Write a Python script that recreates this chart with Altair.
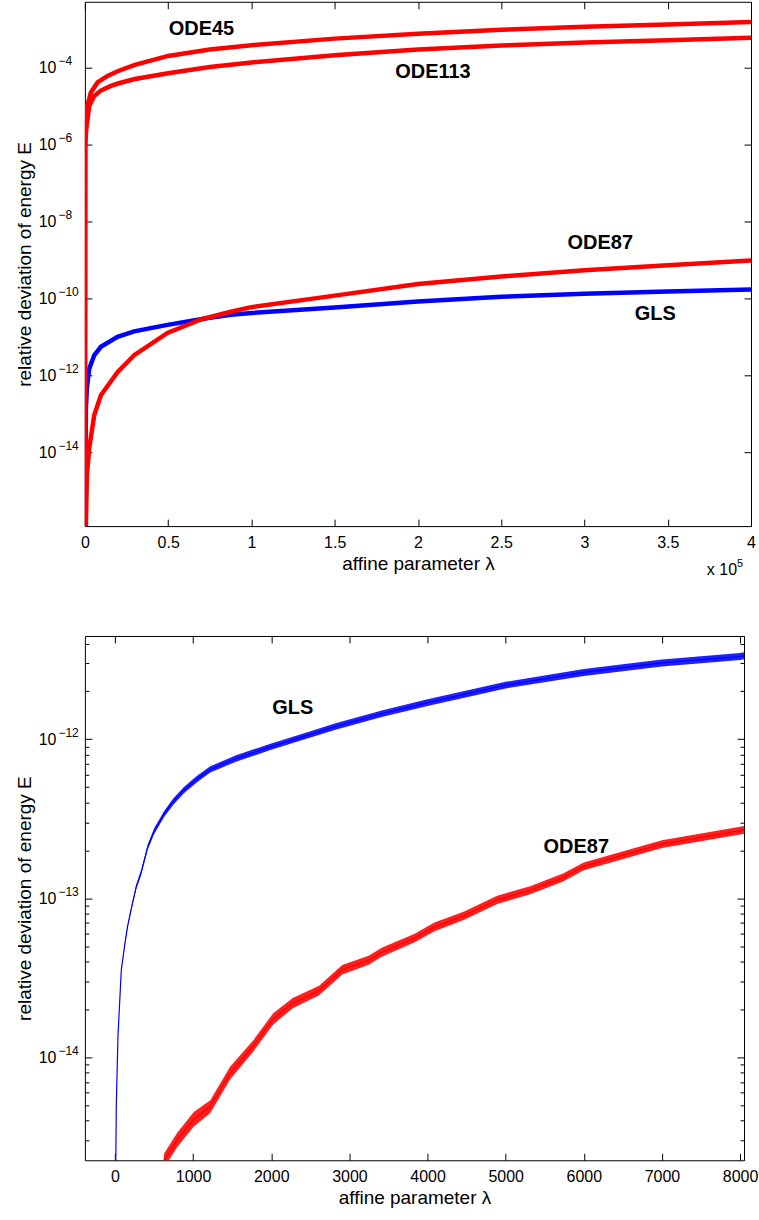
import altair as alt
import pandas as pd

FONT = "Liberation Sans"

# ---------------- top panel: lambda and log10(E) ----------------
top_ode45_lam = [0, 200, 600, 1500, 3600, 7600, 13600, 20000, 30000, 50000, 75000,
                 100000, 150000, 200000, 250000, 300000, 350000, 400000]
top_ode45_exp = [-17, -6.0, -5.6, -5.0, -4.65, -4.39, -4.22, -4.09, -3.93, -3.70, -3.53,
                 -3.42, -3.25, -3.12, -3.02, -2.94, -2.88, -2.82]

top_ode113_lam = [0, 200, 800, 2600, 5600, 9600, 15600, 20400, 30000, 50000, 75000,
                  100000, 150000, 200000, 250000, 300000, 350000, 400000]
top_ode113_exp = [-17, -6.0, -5.6, -5.0, -4.74, -4.6, -4.48, -4.41, -4.30, -4.15, -3.99,
                  -3.87, -3.68, -3.53, -3.43, -3.35, -3.29, -3.23]

top_ode87_lam = [0, 600, 1200, 2600, 5600, 9600, 19600, 29600, 49600, 69600, 87600,
                 100000, 150000, 200000, 250000, 300000, 350000, 400000]
top_ode87_exp = [-17, -15.9, -14.6, -13.9, -13.04, -12.52, -11.92, -11.48, -10.9, -10.55, -10.35,
                 -10.23, -9.93, -9.63, -9.43, -9.27, -9.14, -9.02]

top_gls_lam = [0, 300, 600, 1200, 2600, 5600, 9600, 19600, 29600, 49600, 73000, 87600,
               100000, 150000, 200000, 250000, 300000, 350000, 400000]
top_gls_exp = [-17, -15.0, -12.87, -12.34, -11.83, -11.48, -11.26, -11.0, -10.86, -10.69, -10.52, -10.43,
               -10.38, -10.24, -10.08, -9.96, -9.88, -9.82, -9.77]

top_label_text = ["ODE45", "ODE113", "ODE87", "GLS"]
top_label_lam = [70000, 209000, 309500, 342500]
top_label_E = [1.0e-3, 7.8e-5, 2.7e-9, 3.8e-11]

top_x_ticks = [0, 50000, 100000, 150000, 200000, 250000, 300000, 350000, 400000]
top_y_exps = [-14, -12, -10, -8, -6, -4]
top_x_domain = [0, 400000]
top_y_domain = [1.2e-16, 5.1e-3]

# ---------------- bottom panel ----------------
bot_gls_lam = [0, 17, 38, 81, 123, 160, 207, 271, 334, 418, 500, 629, 750, 882, 1050, 1220,
               1557, 1980, 2400, 2823, 3414, 4000, 5000, 6000, 7000, 8000, 8050]
bot_gls_exp = [-15.2, -14.31, -13.87, -13.45, -13.30, -13.18, -13.07, -12.93, -12.84, -12.68,
               -12.58, -12.47, -12.39, -12.32, -12.25, -12.19, -12.12, -12.05, -11.985, -11.92,
               -11.84, -11.77, -11.66, -11.58, -11.52, -11.48, -11.475]
# half-width of the oscillation band (decades)
bot_gls_amp = [0, 0, 0, 0.004, 0.006, 0.009, 0.012, 0.015, 0.016, 0.017, 0.018, 0.019, 0.02,
               0.02, 0.02, 0.02, 0.02, 0.02, 0.02, 0.021, 0.021, 0.021, 0.021, 0.022, 0.022,
               0.022, 0.022]

bot_ode87_lam = [600, 629, 797, 1009, 1220, 1473, 1768, 2022, 2275, 2613, 2908, 3246, 3414,
                 3835, 4089, 4469, 4891, 5313, 5734, 6000, 7000, 8000, 8050]
bot_ode87_exp = [-14.8, -14.65, -14.52, -14.39, -14.31, -14.10, -13.93, -13.76, -13.66, -13.58,
                 -13.45, -13.39, -13.34, -13.25, -13.18, -13.11, -13.01, -12.95, -12.87, -12.80,
                 -12.66, -12.575, -12.57]
bot_ode87_amp = [0.045, 0.045, 0.045, 0.045, 0.04, 0.04, 0.035, 0.035, 0.032, 0.03, 0.03, 0.028,
                 0.028, 0.027, 0.027, 0.026, 0.026, 0.025, 0.025, 0.024, 0.024, 0.024, 0.024]

bot_label_text = ["GLS", "ODE87"]
bot_label_lam = [2275, 5904]
bot_label_E = [1.56e-12, 2.1e-13]

bot_x_ticks = [0, 1000, 2000, 3000, 4000, 5000, 6000, 7000, 8000]
bot_y_exps = [-14, -13, -12]
bot_y_minor = [3e-15, 4e-15, 5e-15, 6e-15, 7e-15, 8e-15, 9e-15,
               2e-14, 3e-14, 4e-14, 5e-14, 6e-14, 7e-14, 8e-14, 9e-14,
               2e-13, 3e-13, 4e-13, 5e-13, 6e-13, 7e-13, 8e-13, 9e-13,
               2e-12, 3e-12, 4e-12]
bot_x_domain = [-385, 8050]
bot_y_domain = [2.25e-15, 4.46e-12]

W1, H1 = 667, 525
W2, H2 = 660, 525


def series(lam, exps, amp=None):
    df = pd.DataFrame({"lam": lam, "exp": exps})
    df["E"] = 10.0 ** df["exp"]
    if amp is not None:
        df["lo"] = 10.0 ** (df["exp"] - pd.Series(amp))
        df["hi"] = 10.0 ** (df["exp"] + pd.Series(amp))
    return df


def exp_label_expr(exps):
    expr = "''"
    for e in exps:
        s = str(e).replace("-", "\u2212")
        expr = f"abs(log(datum.value)/LN10 - ({e})) < 0.01 ? '{s}' : ({expr})"
    return expr


IS_MAJOR = "abs(log(datum.value)/LN10 - round(log(datum.value)/LN10)) < 0.001"


def labeled_x(values, label_expr):
    return alt.Axis(orient="bottom", values=values, labelExpr=label_expr, tickSize=0, domain=False,
                    grid=False, labelFont=FONT, labelFontSize=16, labelColor="black", labelPadding=8,
                    labelFlush=False, labelOverlap=False,
                    title="affine parameter λ", titleFont=FONT, titleFontSize=19,
                    titleFontWeight="normal", titleColor="black", titlePadding=4)


def base10_y(exps):
    # the "10" part of the 10^n tick labels, carries the axis title
    return alt.Axis(orient="left", values=[10.0 ** e for e in exps], labelExpr="'10'", tickSize=0,
                    domain=False, grid=False, labelFont=FONT, labelFontSize=16, labelColor="black",
                    labelPadding=29, labelFlush=False, labelOverlap=False,
                    title="relative deviation of energy E", titleFont=FONT, titleFontSize=19,
                    titleFontWeight="normal", titleColor="black", titlePadding=4)


def exponent_y(exps):
    # the raised exponent part of the 10^n tick labels
    return alt.Axis(orient="left", values=[10.0 ** e for e in exps], labelExpr=exp_label_expr(exps),
                    tickSize=0, domain=False, grid=False, labelFont=FONT, labelFontSize=12,
                    labelColor="black", labelAlign="left", labelPadding=27, labelOffset=-7,
                    labelFlush=False, labelOverlap=False, title=None)


def tick_axis(orient, offset, values, size, minor=None):
    ts = size if minor is None else {"condition": {"test": IS_MAJOR, "value": size}, "value": minor}
    return alt.Axis(orient=orient, offset=offset, values=values, labels=False, tickSize=ts,
                    domain=False, grid=False, title=None, tickColor="black", tickWidth=1)


def X(field, domain, axis):
    return alt.X(field, type="quantitative", scale=alt.Scale(domain=domain, nice=False, zero=False),
                 axis=axis)


def Y(field, domain, axis):
    return alt.Y(field, type="quantitative",
                 scale=alt.Scale(type="log", domain=domain, nice=False), axis=axis)


# ---------------- top panel ----------------
t45 = series(top_ode45_lam, top_ode45_exp)
t113 = series(top_ode113_lam, top_ode113_exp)
t87 = series(top_ode87_lam, top_ode87_exp)
tgls = series(top_gls_lam, top_gls_exp)
tlab = pd.DataFrame({"lam": top_label_lam, "E": top_label_E, "t": top_label_text})
tx10 = pd.DataFrame({"lam": [top_x_domain[1]], "t": ["x 10"], "e": ["5"]})

top_major_y = [10.0 ** e for e in top_y_exps]

top_gls_layer = alt.Chart(tgls).mark_line(color="#0000FF", strokeWidth=4.5, clip=True).encode(
    x=X("lam", top_x_domain, labeled_x(top_x_ticks, "format(datum.value/100000, '~g')")),
    y=Y("E", top_y_domain, base10_y(top_y_exps)),
)
top_87_layer = alt.Chart(t87).mark_line(color="#FF0000", strokeWidth=4.5, clip=True).encode(
    x=X("lam", top_x_domain, tick_axis("top", -H1, top_x_ticks, 7)),
    y=Y("E", top_y_domain, tick_axis("right", -W1, top_major_y, 7)),
)
top_113_layer = alt.Chart(t113).mark_line(color="#FF0000", strokeWidth=4.5, clip=True).encode(
    x=X("lam", top_x_domain, tick_axis("bottom", -H1, top_x_ticks, 7)),
    y=Y("E", top_y_domain, tick_axis("left", -W1, top_major_y, 7)),
)
top_45_layer = alt.Chart(t45).mark_line(color="#FF0000", strokeWidth=4.5, clip=True).encode(
    x=X("lam", top_x_domain, None),
    y=Y("E", top_y_domain, exponent_y(top_y_exps)),
)
top_text = alt.Chart(tlab).mark_text(font=FONT, fontSize=20, fontWeight="bold", color="black",
                                      align="center", baseline="middle").encode(
    x=X("lam", top_x_domain, None),
    y=Y("E", top_y_domain, None),
    text="t:N",
)
top_x10 = alt.Chart(tx10).mark_text(font=FONT, fontSize=16, color="black", align="right",
                                     baseline="middle", dx=-14).encode(
    x=X("lam", top_x_domain, None),
    y=alt.value(H1 + 44),
    text="t:N",
)
top_x10_exp = alt.Chart(tx10).mark_text(font=FONT, fontSize=11, color="black", align="left",
                                         baseline="middle", dx=-14).encode(
    x=X("lam", top_x_domain, None),
    y=alt.value(H1 + 38),
    text="e:N",
)

top = alt.layer(top_gls_layer, top_87_layer, top_113_layer, top_45_layer, top_text,
                top_x10, top_x10_exp).resolve_axis(
    x="independent", y="independent"
).properties(width=W1, height=H1)

# ---------------- bottom panel ----------------
bg = series(bot_gls_lam, bot_gls_exp, bot_gls_amp)
b87 = series(bot_ode87_lam, bot_ode87_exp, bot_ode87_amp)
blab = pd.DataFrame({"lam": bot_label_lam, "E": bot_label_E, "t": bot_label_text})
bot_all_y = sorted([10.0 ** e for e in bot_y_exps] + bot_y_minor)

bot_gls_band = alt.Chart(bg).mark_area(color="#0000FF", opacity=0.88, clip=True).encode(
    x=X("lam", bot_x_domain, tick_axis("bottom", -H2, bot_x_ticks, 7)),
    y=Y("lo", bot_y_domain, tick_axis("left", -W2, bot_all_y, 7, 4)),
    y2="hi",
)
bot_87_band = alt.Chart(b87).mark_area(color="#FF0000", opacity=0.88, clip=True).encode(
    x=X("lam", bot_x_domain, None),
    y=Y("lo", bot_y_domain, tick_axis("right", -W2, bot_all_y, 7, 4)),
    y2="hi",
)
bot_gls_line = alt.Chart(bg).mark_line(color="#0000FF", strokeWidth=1.2, clip=True).encode(
    x=X("lam", bot_x_domain, labeled_x(bot_x_ticks, "format(datum.value, 'd')")),
    y=Y("E", bot_y_domain, base10_y(bot_y_exps)),
)
bot_87_line = alt.Chart(b87).mark_line(color="#FF0000", strokeWidth=1.2, clip=True).encode(
    x=X("lam", bot_x_domain, tick_axis("top", -H2, bot_x_ticks, 7)),
    y=Y("E", bot_y_domain, exponent_y(bot_y_exps)),
)
bot_text = alt.Chart(blab).mark_text(font=FONT, fontSize=20, fontWeight="bold", color="black",
                                      align="center", baseline="middle").encode(
    x=X("lam", bot_x_domain, None),
    y=Y("E", bot_y_domain, None),
    text="t:N",
)

bottom = alt.layer(bot_gls_band, bot_87_band, bot_gls_line, bot_87_line, bot_text).resolve_axis(
    x="independent", y="independent"
).properties(width=W2, height=H2)

chart = alt.vconcat(top, bottom, spacing=56).properties(
    padding={"left": 14, "top": 0, "right": 0, "bottom": 0},
    background="white",
).configure_view(stroke="black", strokeWidth=1).configure_axis(labelFont=FONT, titleFont=FONT)

chart.save("out.html", embed_options={"renderer": "svg", "actions": False})
